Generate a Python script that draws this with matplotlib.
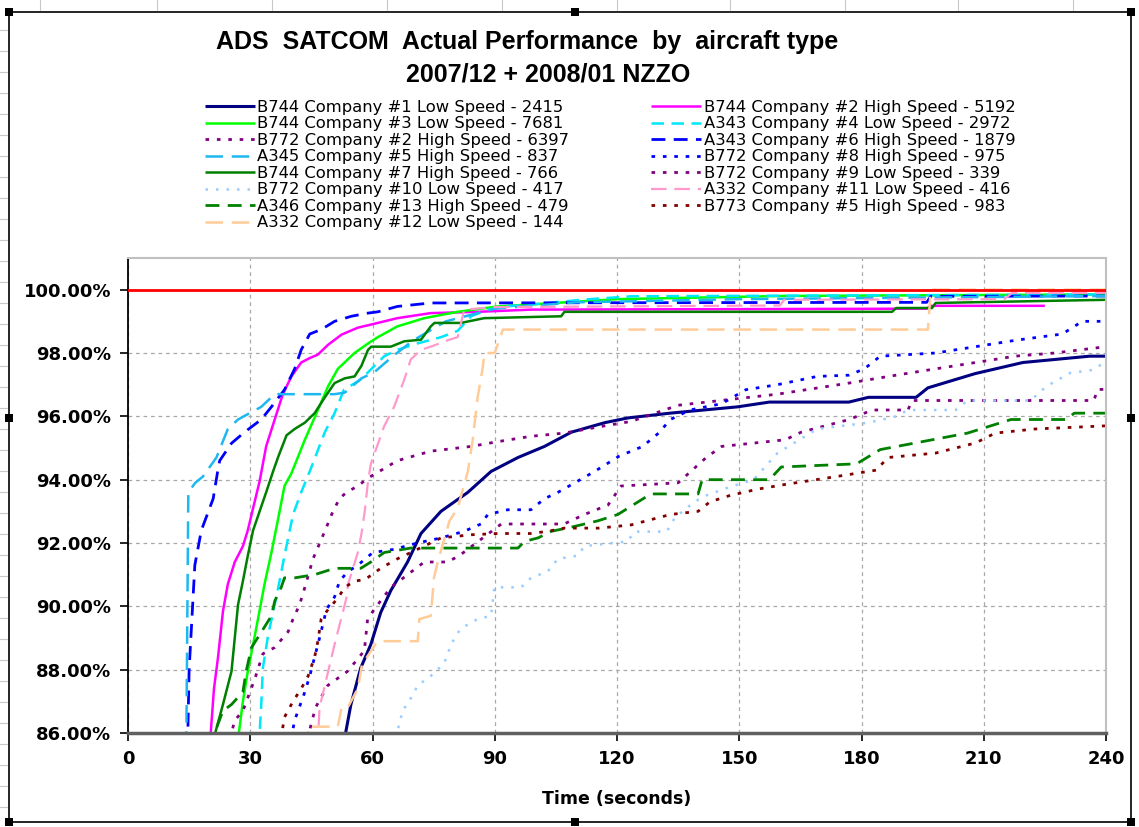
import matplotlib
matplotlib.use("Agg")
import matplotlib.pyplot as plt
from matplotlib.lines import Line2D
from matplotlib.patches import Rectangle
from matplotlib.ticker import FuncFormatter

# ---- data (time in s, cumulative % of messages) ----
labels = [
    "B744 Company #1 Low Speed - 2415",
    "B744 Company #2 High Speed - 5192",
    "B744 Company #3 Low Speed - 7681",
    "A343 Company #4 Low Speed - 2972",
    "B772 Company #2 High Speed - 6397",
    "A343 Company #6 High Speed - 1879",
    "A345 Company #5 High Speed - 837",
    "B772 Company #8 High Speed - 975",
    "B744 Company #7 High Speed - 766",
    "B772 Company #9 Low Speed - 339",
    "B772 Company #10 Low Speed - 417",
    "A332 Company #11 Low Speed - 416",
    "A346 Company #13 High Speed - 479",
    "B773 Company #5 High Speed - 983",
    "A332 Company #12 Low Speed - 144",
]

b744_1_t = [53.0, 53.4, 54.7, 57.1, 59.6, 62.0, 64.5, 68.6, 71.9, 76.8, 83.4, 89.1, 95.7, 102.2, 108.8,
            117.0, 122.7, 133.0, 149.6, 157.4, 176.9, 181.7, 193.4, 196.3, 207.9, 219.6, 236.0, 240.0]
b744_1_v = [85.5, 86.0, 86.9, 88.05, 88.8, 89.8, 90.5, 91.4, 92.3, 93.0, 93.6, 94.26, 94.7, 95.05, 95.5,
            95.8, 95.95, 96.1, 96.3, 96.45, 96.45, 96.6, 96.6, 96.9, 97.35, 97.7, 97.9, 97.9]

b744_2_t = [20.0, 20.3, 21.1, 22.1, 23.3, 24.5, 26.2, 28.2, 29.4, 30.7, 32.3, 33.9, 36.0, 38.0, 40.1, 42.5,
            44.6, 46.6, 49.1, 52.4, 56.4, 59.7, 66.1, 74.3, 85.8, 98.9, 196.0, 197.0, 225.0]
b744_2_v = [85.5, 86.0, 87.4, 88.4, 89.84, 90.7, 91.4, 91.9, 92.4, 93.1, 93.95, 95.05, 95.9, 96.7, 97.26, 97.7,
            97.84, 97.95, 98.26, 98.58, 98.8, 98.9, 99.1, 99.26, 99.3, 99.37, 99.4, 99.49, 99.49]

b744_3_t = [27.0, 27.2, 28.2, 29.4, 30.7, 31.9, 33.5, 35.2, 37.2, 38.4, 40.1, 43.4, 46.6, 49.1, 51.5, 55.6,
            58.9, 61.3, 66.1, 72.7, 80.9, 90.7, 120.0, 160.0, 240.0]
b744_3_v = [85.5, 86.0, 87.0, 87.95, 88.8, 89.6, 90.7, 91.7, 93.0, 93.8, 94.2, 95.26, 96.2, 96.95, 97.5, 98.0,
            98.3, 98.5, 98.84, 99.1, 99.3, 99.47, 99.7, 99.8, 99.85]

a343_4_t = [32.0, 32.3, 32.7, 33.1, 34.4, 36.0, 37.2, 38.4, 40.5, 42.5, 44.6, 48.3, 50.7, 53.0, 57.1, 62.9,
            66.1, 71.0, 76.8, 80.9, 84.2, 88.3, 92.4, 98.9, 111.2, 123.5, 240.0]
a343_4_v = [85.5, 86.0, 86.9, 88.05, 89.1, 90.05, 90.8, 91.6, 92.9, 93.6, 94.26, 95.5, 96.1, 96.84, 97.16, 97.9,
            98.1, 98.3, 98.5, 98.7, 99.16, 99.37, 99.47, 99.53, 99.68, 99.79, 99.85]

b772_2_t = [25.0, 26.2, 28.2, 31.1, 33.1, 36.0, 39.3, 40.5, 42.1, 43.4, 45.4, 47.4, 48.7, 50.3, 51.9, 53.6,
            56.4, 58.9, 66.1, 74.3, 84.2, 90.7, 98.9, 107.0, 117.0, 123.5, 135.0, 159.4, 176.9, 188.5, 198.2,
            208.0, 217.7, 227.4, 240.0]
b772_2_v = [85.8, 86.4, 86.7, 87.7, 88.5, 88.7, 89.2, 89.6, 90.05, 90.6, 91.5, 92.1, 92.5, 93.0, 93.4, 93.6,
            93.8, 94.05, 94.6, 94.9, 95.05, 95.2, 95.37, 95.47, 95.7, 95.84, 96.35, 96.7, 97.05, 97.3, 97.5,
            97.7, 97.9, 98.0, 98.2]

a343_6_t = [14.6, 15.0, 16.4, 18.0, 20.9, 22.0, 22.5, 25.4, 28.6, 32.7, 35.2, 38.4, 40.9, 42.5, 44.6, 47.4,
            50.7, 54.8, 58.9, 61.3, 66.1, 74.3, 196.0, 197.0, 240.0]
a343_6_v = [85.5, 88.0, 91.3, 92.4, 93.4, 94.26, 94.6, 95.15, 95.5, 95.9, 96.3, 96.84, 97.5, 98.1, 98.6, 98.74,
            99.0, 99.16, 99.26, 99.3, 99.47, 99.58, 99.6, 99.79, 99.8]

a345_5_t = [14.3, 14.8, 16.5, 18.4, 21.7, 24.5, 27.0, 32.7, 36.0, 50.7, 53.2, 57.3, 60.5, 65.0, 70.0, 78.0,
            90.0, 110.0, 150.0, 240.0]
a345_5_v = [85.5, 93.6, 93.9, 94.1, 94.7, 95.6, 95.9, 96.3, 96.7, 96.7, 96.75, 97.2, 97.4, 97.9, 98.4, 99.0,
            99.4, 99.6, 99.7, 99.8]

b772_8_t = [40.0, 40.9, 43.4, 44.6, 47.0, 48.7, 50.7, 51.9, 54.0, 56.4, 60.1, 65.3, 71.0, 76.8, 82.5, 86.6,
            88.3, 93.2, 98.9, 102.2, 105.5, 108.8, 114.5, 120.5, 126.3, 130.2, 133.1, 137.9, 145.7, 151.6,
            159.4, 169.1, 176.9, 180.7, 184.6, 198.2, 208.0, 217.7, 229.3, 232.2, 234.2, 240.0]
b772_8_v = [85.8, 86.4, 87.3, 87.8, 89.0, 89.9, 90.3, 90.8, 91.1, 91.3, 91.7, 91.8, 92.0, 92.16, 92.37, 92.6,
            92.9, 93.05, 93.05, 93.4, 93.6, 93.84, 94.26, 94.74, 95.05, 95.47, 95.9, 96.2, 96.4, 96.84,
            97.0, 97.26, 97.3, 97.5, 97.9, 98.0, 98.2, 98.4, 98.6, 98.84, 99.0, 99.0]

b744_7_t = [21.0, 21.4, 23.3, 25.4, 26.2, 27.0, 28.2, 29.4, 30.7, 32.3, 33.9, 35.6, 36.8, 38.9, 40.9, 43.4,
            45.8, 48.3, 50.7, 53.2, 55.6, 57.3, 58.9, 59.7, 64.5, 67.8, 71.9, 74.3, 75.2, 81.7, 87.4, 106.3,
            107.1, 187.5, 188.5, 197.3, 198.2, 240.0]
b744_7_v = [85.5, 86.0, 86.9, 87.95, 89.0, 90.05, 90.8, 91.6, 92.4, 93.0, 93.6, 94.26, 94.7, 95.4, 95.6, 95.8,
            96.1, 96.6, 97.05, 97.2, 97.26, 97.6, 98.1, 98.2, 98.2, 98.37, 98.42, 98.84, 98.95, 98.95, 99.1, 99.16,
            99.3, 99.3, 99.42, 99.42, 99.58, 99.68]

b772_9_t = [44.0, 46.0, 49.0, 53.9, 58.0, 58.8, 60.4, 64.5, 72.7, 78.4, 81.3, 91.6, 107.0, 112.0, 117.8, 121.0,
            135.0, 141.9, 145.7, 161.3, 165.2, 177.0, 182.6, 191.4, 192.4, 237.0, 238.0, 240.0]
b772_9_v = [85.8, 86.8, 87.5, 87.95, 88.6, 89.6, 89.9, 90.6, 91.4, 91.4, 91.6, 92.6, 92.6, 92.9, 93.2, 93.8,
            93.9, 94.7, 95.05, 95.26, 95.5, 95.9, 96.2, 96.2, 96.5, 96.5, 96.85, 96.85]

b772_10_t = [65.5, 66.1, 67.4, 69.4, 71.1, 74.3, 77.6, 78.4, 80.1, 81.7, 85.8, 89.1, 89.9, 96.5, 98.9, 103.0,
             105.5, 110.4, 112.0, 122.5, 124.4, 132.2, 134.2, 139.0, 141.9, 147.7, 153.5, 159.4, 169.1, 181.7,
             188.5, 191.4, 203.1, 206.0, 221.5, 225.4, 231.2, 237.0, 239.5, 240.0]
b772_10_v = [85.5, 86.05, 86.7, 87.1, 87.5, 87.8, 88.2, 88.5, 89.0, 89.3, 89.6, 89.7, 90.6, 90.6, 90.9, 91.1,
             91.5, 91.6, 91.9, 92.05, 92.36, 92.36, 92.8, 93.3, 93.5, 93.77, 94.0, 94.84, 95.6, 95.8,
             96.0, 96.2, 96.2, 96.5, 96.5, 96.95, 97.37, 97.47, 97.7, 97.7]

a332_11_t = [46.5, 47.0, 48.3, 49.5, 50.7, 53.6, 54.0, 56.4, 57.3, 58.1, 58.9, 59.6, 62.9, 65.3, 67.8, 69.4,
             71.9, 74.3, 78.4, 80.9, 82.5, 90.0, 160.0, 161.0, 215.0, 217.0, 240.0]
a332_11_v = [85.5, 86.8, 87.5, 88.15, 88.8, 90.26, 90.7, 91.7, 92.3, 93.0, 93.95, 94.5, 95.7, 96.3, 97.16, 97.8,
             98.1, 98.2, 98.4, 98.5, 99.37, 99.45, 99.5, 99.68, 99.7, 99.9, 99.9]

a346_13_t = [21.0, 21.4, 23.3, 25.4, 28.2, 29.0, 30.3, 32.3, 35.2, 36.0, 37.6, 38.4, 40.9, 45.8, 50.7, 57.1,
             59.6, 62.9, 69.4, 95.7, 97.3, 100.6, 103.9, 108.8, 115.3, 120.2, 128.3, 139.9, 140.9, 157.4,
             160.3, 178.8, 184.6, 206.0, 216.7, 230.3, 232.2, 240.0]
a346_13_v = [85.5, 86.05, 86.7, 86.9, 87.3, 87.95, 88.7, 89.1, 89.7, 90.16, 90.6, 90.9, 90.9, 91.0, 91.2, 91.2,
             91.4, 91.7, 91.84, 91.84, 92.05, 92.16, 92.37, 92.5, 92.7, 92.9, 93.55, 93.55, 94.0, 94.0,
             94.4, 94.5, 94.95, 95.47, 95.9, 95.9, 96.1, 96.1]

b773_5_t = [37.5, 38.4, 40.5, 42.5, 44.2, 45.8, 46.6, 47.4, 49.1, 51.5, 53.2, 55.6, 58.1, 62.0, 66.1, 69.4,
            76.8, 84.2, 90.7, 98.9, 103.0, 107.1, 115.6, 123.4, 133.1, 139.9, 142.8, 147.7, 154.5, 161.3,
            173.9, 183.6, 186.5, 198.2, 208.0, 212.8, 222.5, 240.0]
b773_5_v = [85.8, 86.5, 87.0, 87.4, 87.8, 88.4, 88.9, 89.6, 89.9, 90.26, 90.6, 90.8, 90.84, 91.2, 91.5, 91.7,
            92.16, 92.26, 92.3, 92.3, 92.37, 92.47, 92.47, 92.57, 92.9, 93.0, 93.3, 93.5, 93.7, 93.85,
            94.1, 94.3, 94.7, 94.84, 95.16, 95.47, 95.6, 95.7]

a332_12_t = [44.2, 44.2, 51.5, 52.4, 53.9, 56.4, 57.4, 61.2, 71.1, 71.5, 74.3, 75.1, 76.0, 78.9, 80.9, 83.4,
             84.6, 85.8, 87.0, 87.5, 90.0, 92.0, 196.3, 197.0, 240.0]
a332_12_v = [85.5, 86.2, 86.2, 86.8, 86.8, 87.4, 88.15, 88.9, 88.9, 89.6, 89.7, 90.9, 91.4, 92.7, 93.1, 94.26,
             95.26, 96.6, 97.5, 98.0, 98.0, 98.74, 98.74, 100.0, 100.0]

target_t = [0, 240]
target_v = [100.0, 100.0]

# ---- styling ----
DOT = (0, (1.3, 2.8))
SDOT = (0, (1.0, 3.2))
DASH = (0, (5, 3))
LDASH = (0, (7, 3.5))

series = {
    "B744 Company #1 Low Speed - 2415": (b744_1_t, b744_1_v, "#000080", "-", 2.2),
    "B744 Company #2 High Speed - 5192": (b744_2_t, b744_2_v, "#FF00FF", "-", 1.8),
    "B744 Company #3 Low Speed - 7681": (b744_3_t, b744_3_v, "#00FF00", "-", 1.8),
    "A343 Company #4 Low Speed - 2972": (a343_4_t, a343_4_v, "#00E6FA", DASH, 1.8),
    "B772 Company #2 High Speed - 6397": (b772_2_t, b772_2_v, "#800080", DOT, 2.0),
    "A343 Company #6 High Speed - 1879": (a343_6_t, a343_6_v, "#0000FF", DASH, 2.0),
    "A345 Company #5 High Speed - 837": (a345_5_t, a345_5_v, "#1EB8F0", LDASH, 1.8),
    "B772 Company #8 High Speed - 975": (b772_8_t, b772_8_v, "#0000FF", DOT, 2.0),
    "B744 Company #7 High Speed - 766": (b744_7_t, b744_7_v, "#008000", "-", 1.8),
    "B772 Company #9 Low Speed - 339": (b772_9_t, b772_9_v, "#800080", DOT, 2.0),
    "B772 Company #10 Low Speed - 417": (b772_10_t, b772_10_v, "#99CCFF", SDOT, 1.8),
    "A332 Company #11 Low Speed - 416": (a332_11_t, a332_11_v, "#FF99CC", LDASH, 1.6),
    "A346 Company #13 High Speed - 479": (a346_13_t, a346_13_v, "#008000", DASH, 2.0),
    "B773 Company #5 High Speed - 983": (b773_5_t, b773_5_v, "#800000", DOT, 2.0),
    "A332 Company #12 Low Speed - 144": (a332_12_t, a332_12_v, "#FFCC99", LDASH, 1.8),
}

W, H = 1139, 827
fig = plt.figure(figsize=(W / 100, H / 100), dpi=100)
fig.patch.set_facecolor("white")

# spreadsheet look around the chart object
for x in [40, 157, 272, 387, 502, 617, 730, 845, 958, 1073]:
    fig.add_artist(Line2D([x / W, x / W], [1 - 0 / H, 1 - 10 / H], color="#C8C8C8", lw=0.8))
for y in range(30, 827, 21):
    fig.add_artist(Line2D([0, 7 / W], [1 - y / H, 1 - y / H], color="#C8C8C8", lw=0.8))
fig.add_artist(Rectangle((9 / W, 1 - 822 / H), 1122 / W, 810 / H, fill=False,
                         edgecolor="black", lw=1.2))
for hx, hy in [(9, 12), (575, 12), (1131, 12), (9, 418), (1131, 418), (9, 822), (575, 822), (1131, 822)]:
    fig.add_artist(Rectangle(((hx - 4) / W, 1 - (hy + 4) / H), 8 / W, 8 / H,
                             facecolor="black", edgecolor="none"))

ax = fig.add_axes([128 / W, 1 - 733 / H, (1106 - 128) / W, (733 - 258) / H])

ax.plot(target_t, target_v, color="#FF0000", lw=2.0, zorder=5)
handles = {}
for name, (t, v, c, ls, lw) in series.items():
    ln, = ax.plot(t, v, color=c, linestyle=ls, lw=lw, label=name,
                  solid_capstyle="butt", dash_capstyle="butt")
    handles[name] = ln

ax.set_xlim(0, 240)
ax.set_ylim(86, 101)
ax.set_xticks(range(0, 241, 30))
ax.set_yticks(range(86, 101, 2))
ax.yaxis.set_major_formatter(FuncFormatter(lambda v, p: f"{v:.2f}%"))
ax.grid(True, color="#A8A8A8", linestyle=(0, (3, 3)), lw=0.9)
ax.set_axisbelow(True)

for s in ["top", "right"]:
    ax.spines[s].set_color("#C0C0C0")
    ax.spines[s].set_linewidth(1.5)
ax.spines["left"].set_color("black")
ax.spines["left"].set_linewidth(1.3)
ax.spines["bottom"].set_color("#606060")
ax.spines["bottom"].set_linewidth(2.5)
ax.tick_params(direction="out", length=6, width=1.2, colors="black", pad=6)
for lab in ax.get_xticklabels() + ax.get_yticklabels():
    lab.set_fontweight("bold")
    lab.set_fontsize(13)
ax.set_xlabel("Time (seconds)", fontsize=12.5, fontweight="bold", labelpad=16)

# title
title_font = ["Liberation Sans Narrow", "Liberation Sans", "DejaVu Sans"]
fig.text(527 / W, 1 - 42 / H, "ADS  SATCOM  Actual Performance  by  aircraft type",
         ha="center", va="center", fontsize=18, fontweight="bold", family=title_font)
fig.text(548 / W, 1 - 74 / H, "2007/12 + 2008/01 NZZO",
         ha="center", va="center", fontsize=18, fontweight="bold", family=title_font)

col1 = [labels[i] for i in [0, 2, 4, 6, 8, 10, 12, 14]]
col2 = [labels[i] for i in [1, 3, 5, 7, 9, 11, 13]]
order = col1 + col2
leg = fig.legend([handles[n] for n in order], order, loc="upper left",
                 bbox_to_anchor=(205 / W, 1 - 100 / H), ncol=2, frameon=False,
                 fontsize=11.8, handlelength=3.05, handletextpad=0.15,
                 labelspacing=0.09, columnspacing=5.0, borderaxespad=0, borderpad=0)

fig.savefig("out.png", dpi=100)
